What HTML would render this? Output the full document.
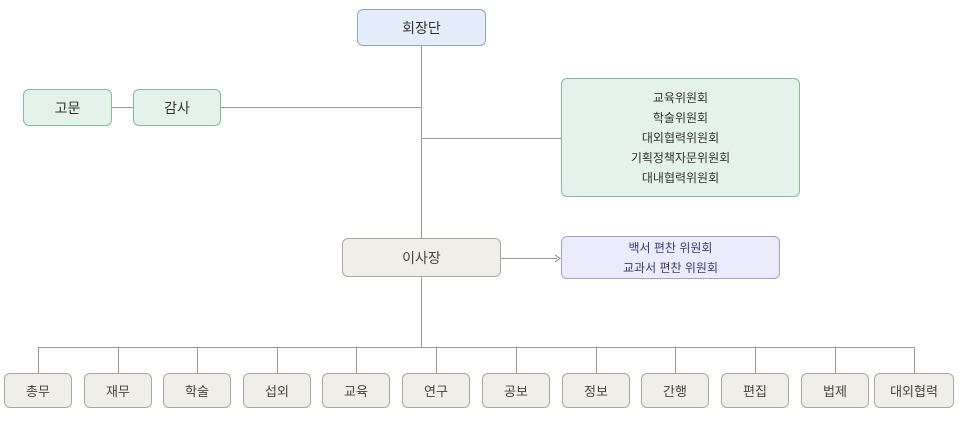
<!DOCTYPE html><html><head><meta charset="utf-8"><style>
body{margin:0;width:960px;height:422px;background:#fff;position:relative;font-family:"Liberation Sans","Noto Sans CJK KR",sans-serif;overflow:hidden}
.b{position:absolute;box-sizing:border-box;border:1px solid #9a9a9a;border-radius:6px;display:flex;align-items:center;justify-content:center;text-align:center;color:#333}
.g{background:#e3f3ec;border-color:#88b8a0}
.t{background:#efeee8;border-color:#a8a8a0;font-size:13px;color:#444}
.l{position:absolute;background:#9a9a9a}
</style></head><body>
<div class="l" style="left:421px;top:46px;width:1px;height:301px"></div>
<div class="l" style="left:221px;top:107px;width:200px;height:1px"></div>
<div class="l" style="left:112px;top:107px;width:21px;height:1px"></div>
<div class="l" style="left:421px;top:138px;width:140px;height:1px"></div>
<div class="l" style="left:501px;top:258px;width:56px;height:1px"></div>
<svg style="position:absolute;left:554px;top:254px" width="8" height="9"><path d="M1 1L6 4.5L1 8" fill="none" stroke="#888" stroke-width="1"/></svg>
<div class="l" style="left:38px;top:347px;width:877px;height:1px"></div>
<div class="b" style="left:357px;top:9px;width:129px;height:37px;background:#e4eefa;border-color:#8fa6c4;font-size:14px">회장단</div>
<div class="b g" style="left:23px;top:89px;width:89px;height:37px;font-size:14px">고문</div>
<div class="b g" style="left:133px;top:89px;width:88px;height:37px;font-size:14px">감사</div>
<div class="b g" style="left:561px;top:78px;width:239px;height:119px;font-size:12px;line-height:20px;flex-direction:column">교육위원회<br>학술위원회<br>대외협력위원회<br>기획정책자문위원회<br>대내협력위원회</div>
<div class="b t" style="left:342px;top:238px;width:159px;height:39px;font-size:14px">이사장</div>
<div class="b" style="left:561px;top:236px;width:219px;height:43px;background:#ecebfb;border-color:#a4a2cc;font-size:12px;line-height:20px;color:#3c3c7a">백서 편찬 위원회<br>교과서 편찬 위원회</div>
<div id="bt"></div>
<script>
var n=["총무","재무","학술","섭외","교육","연구","공보","정보","간행","편집","법제","대외협력"];
var c=[38,118,197,277,356,436,516,596,675,755,835,914];
var h="";
for(var i=0;i<12;i++){var w=i==11?80:68;
h+='<div class="l" style="left:'+c[i]+'px;top:347px;width:1px;height:26px"></div>';
h+='<div class="b t" style="left:'+(c[i]-w/2)+'px;top:373px;width:'+w+'px;height:35px">'+n[i]+'</div>';}
document.getElementById("bt").innerHTML=h;
</script>
</body></html>
